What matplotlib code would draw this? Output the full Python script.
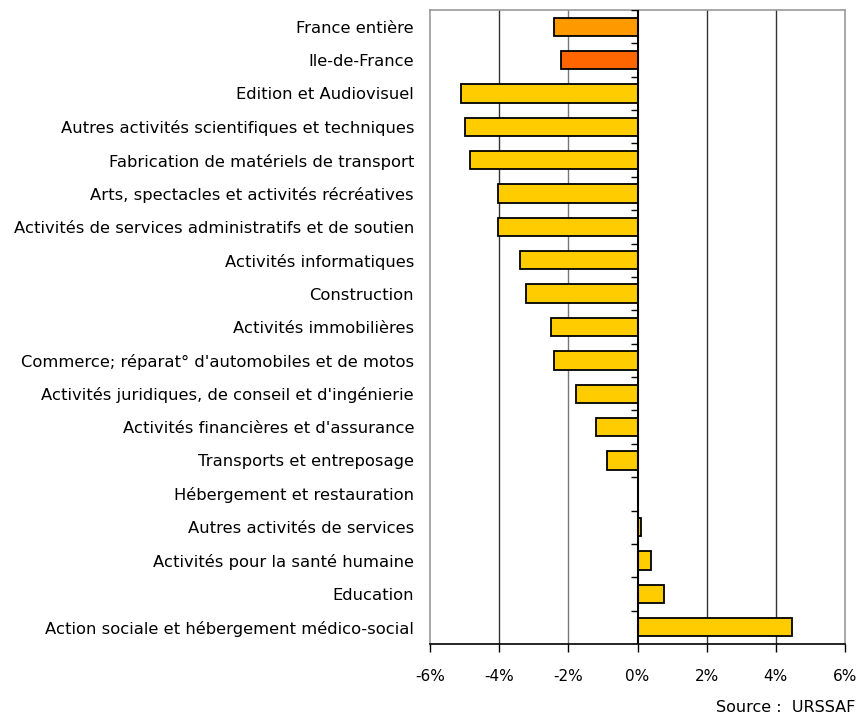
import matplotlib
matplotlib.use("Agg")
import matplotlib.pyplot as plt
import numpy as np

categories = [
    "France entière",
    "Ile-de-France",
    "Edition et Audiovisuel",
    "Autres activités scientifiques et techniques",
    "Fabrication de matériels de transport",
    "Arts, spectacles et activités récréatives",
    "Activités de services administratifs et de soutien",
    "Activités informatiques",
    "Construction",
    "Activités immobilières",
    "Commerce; réparat° d'automobiles et de motos",
    "Activités juridiques, de conseil et d'ingénierie",
    "Activités financières et d'assurance",
    "Transports et entreposage",
    "Hébergement et restauration",
    "Autres activités de services",
    "Activités pour la santé humaine",
    "Education",
    "Action sociale et hébergement médico-social",
]
values = [-2.42, -2.2, -5.1, -5.0, -4.83, -4.02, -4.02, -3.4, -3.22, -2.49,
          -2.41, -1.79, -1.21, -0.89, 0.0, 0.11, 0.40, 0.77, 4.46]
colors = ["#FF9900", "#FF6600"] + ["#FFCC00"] * 17
xticks = [-6, -4, -2, 0, 2, 4, 6]
xticklabels = ["-6%", "-4%", "-2%", "0%", "2%", "4%", "6%"]

fig = plt.figure(figsize=(8.58, 7.16), dpi=100)
ax = fig.add_axes([430/858, 1 - 644/716, 415/858, 634/716])

n = len(categories)
y = np.arange(n)
ax.barh(y, values, height=0.55, color=colors, edgecolor="black", linewidth=1.3, zorder=3)

ax.set_xlim(-6, 6)
ax.set_ylim(n - 0.5, -0.5)

for xv in [-4, -2, 2, 4]:
    ax.axvline(xv, color="#333333" if xv != -2 else "#777777", linewidth=1, zorder=1)

# zero axis with boundary ticks
ax.axvline(0, color="black", linewidth=1.5, zorder=5)
for b in np.arange(-0.5, n, 1.0):
    ax.plot([-0.2, 0], [b, b], color="black", linewidth=1, zorder=4, solid_capstyle="butt")

for s in ["left", "right", "top"]:
    ax.spines[s].set_color("#999999")
    ax.spines[s].set_linewidth(1.2)
ax.spines["bottom"].set_color("black")
ax.spines["bottom"].set_linewidth(1.2)

ax.set_xticks(xticks)
ax.set_xticklabels(xticklabels, fontsize=11)
ax.tick_params(axis="x", direction="out", length=6, width=1, pad=12)

ax.set_yticks(y)
ax.set_yticklabels(categories, fontsize=11.8)
ax.tick_params(axis="y", length=0, pad=11.5)

fig.text(855/858, 1 - 708/716, "Source :  URSSAF", fontsize=11.5, ha="right", va="center")

fig.savefig("out.png", dpi=100)
